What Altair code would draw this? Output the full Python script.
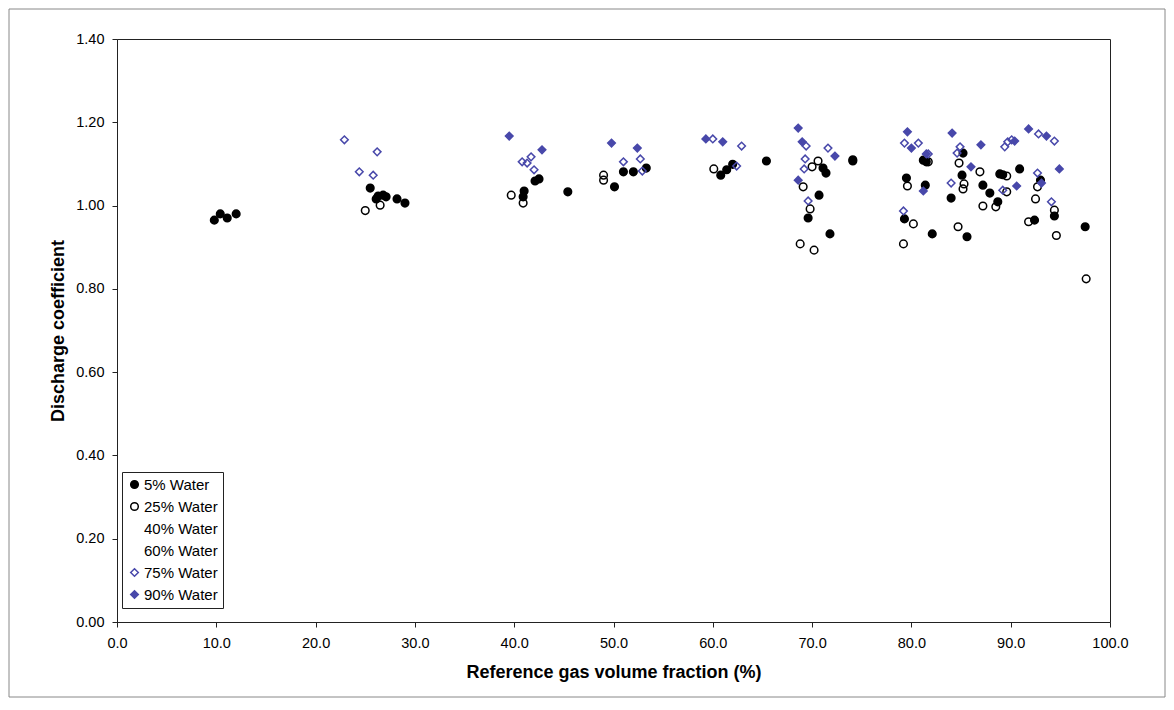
import altair as alt
import pandas as pd

# ---- data ----
series_names = ["5% Water", "25% Water", "40% Water", "60% Water", "75% Water", "90% Water"]

w5_x = [9.8, 10.4, 11.1, 12.0,
        25.5, 26.1, 26.3, 26.8, 27.1, 28.2, 29.0,
        40.9, 41.0, 42.1, 42.5, 45.4,
        50.1, 51.0, 52.0, 53.3,
        60.8, 61.4, 62.0, 65.4,
        69.6, 70.7, 71.1, 71.4, 71.8,
        74.1, 74.1,
        79.3, 79.5, 81.2, 81.4, 81.5, 82.1, 84.0, 85.1, 85.2, 85.6,
        87.2, 87.9, 88.7, 88.9, 89.2, 90.9, 92.4, 93.0, 94.4, 97.5]
w5_y = [0.965, 0.980, 0.970, 0.980,
        1.042, 1.016, 1.023, 1.025, 1.021, 1.016, 1.006,
        1.021, 1.035, 1.059, 1.064, 1.033,
        1.045, 1.081, 1.081, 1.090,
        1.073, 1.086, 1.099, 1.107,
        0.970, 1.025, 1.090, 1.078, 0.932,
        1.107, 1.110,
        0.968, 1.066, 1.109, 1.049, 1.105, 0.932, 1.018, 1.073, 1.126, 0.925,
        1.049, 1.030, 1.009, 1.076, 1.074, 1.088, 0.965, 1.061, 0.975, 0.949]

w25_x = [25.0, 26.5,
         39.7, 40.9,
         49.0, 49.0,
         60.1,
         68.8, 69.1, 69.8, 70.0, 70.2, 70.6,
         79.2, 79.6, 80.2, 81.7, 84.7, 84.8, 85.2, 85.3,
         86.9, 87.2, 88.5, 89.6, 89.6, 91.8, 92.5, 92.7, 94.4, 94.6, 97.6]
w25_y = [0.988, 1.001,
         1.025, 1.006,
         1.073, 1.061,
         1.088,
         0.908, 1.045, 0.992, 1.093, 0.893, 1.107,
         0.908, 1.047, 0.956, 1.105, 0.949, 1.102, 1.040, 1.052,
         1.081, 0.999, 0.997, 1.033, 1.071, 0.961, 1.016, 1.045, 0.989, 0.928, 0.824]

w40_x = []
w40_y = []
w60_x = []
w60_y = []

w75_x = [22.9, 24.4, 25.8, 26.2,
         40.8, 41.3, 41.7, 42.0,
         51.0, 52.7, 52.9,
         60.0, 62.4, 62.9,
         69.2, 69.3, 69.4, 69.6, 71.6,
         79.2, 79.3, 80.7, 81.7, 84.0, 84.6, 84.9,
         89.2, 89.4, 89.7, 90.1, 92.7, 92.8, 94.1, 94.4]
w75_y = [1.158, 1.081, 1.073, 1.129,
         1.105, 1.102, 1.117, 1.086,
         1.105, 1.112, 1.083,
         1.160, 1.095, 1.143,
         1.088, 1.112, 1.143, 1.011, 1.138,
         0.987, 1.150, 1.150, 1.124, 1.054, 1.126, 1.141,
         1.037, 1.141, 1.153, 1.158, 1.078, 1.172, 1.009, 1.155]

w90_x = [39.5, 42.8,
         49.8, 52.4,
         59.3, 61.0,
         68.6, 68.6, 69.0, 72.3,
         79.6, 80.0, 81.2, 81.5, 84.1,
         86.0, 87.0, 90.4, 90.6, 91.8, 93.1, 93.6, 94.9]
w90_y = [1.167, 1.134,
         1.150, 1.138,
         1.160, 1.153,
         1.186, 1.061, 1.153, 1.119,
         1.177, 1.138, 1.035, 1.124, 1.174,
         1.093, 1.146, 1.155, 1.047, 1.184, 1.054, 1.167, 1.088]

x_ticks = [0, 10, 20, 30, 40, 50, 60, 70, 80, 90, 100]
y_ticks = [0.0, 0.2, 0.4, 0.6, 0.8, 1.0, 1.2, 1.4]

# ---- table ----
rows = []
for name, xs, ys in zip(series_names,
                        [w5_x, w25_x, w40_x, w60_x, w75_x, w90_x],
                        [w5_y, w25_y, w40_y, w60_y, w75_y, w90_y]):
    for xv, yv in zip(xs, ys):
        rows.append({"gvf": xv, "cd": yv, "series": name})
df = pd.DataFrame(rows)

BLUE = "#4848AA"
FONT = "Liberation Sans"

shape_range = ["circle", "circle", "circle", "circle", "diamond", "diamond"]
fill_range = ["black", "transparent", "transparent", "transparent", "transparent", BLUE]
stroke_range = ["black", "black", "transparent", "transparent", BLUE, BLUE]

legend = alt.Legend(title=None, orient="none", legendX=5, legendY=433)

points = alt.Chart(df).mark_point(filled=False, strokeWidth=1.5, opacity=1, size=58).encode(
    x=alt.X("gvf:Q", scale=alt.Scale(domain=[0, 100], nice=False, zero=False),
            axis=alt.Axis(values=x_ticks, format=".1f", title="Reference gas volume fraction (%)",
                          labelPadding=9, labelFlush=False, titleX=496.5, titleY=50,
                          titleAlign="center", titleBaseline="middle")),
    y=alt.Y("cd:Q", scale=alt.Scale(domain=[0, 1.4], nice=False),
            axis=alt.Axis(values=y_ticks, format=".2f", title="Discharge coefficient",
                          labelPadding=8, labelFlush=False, titleX=-59, titleY=291.5,
                          titleAngle=-90, titleAlign="center", titleBaseline="middle")),
    shape=alt.Shape("series:N", scale=alt.Scale(domain=series_names, range=shape_range), legend=legend),
    fill=alt.Fill("series:N", scale=alt.Scale(domain=series_names, range=fill_range), legend=legend),
    stroke=alt.Stroke("series:N", scale=alt.Scale(domain=series_names, range=stroke_range), legend=legend),
)

frame = alt.Chart(pd.DataFrame({"k": [0]})).mark_rect(
    fill="transparent", stroke="#888", strokeWidth=1
).encode(x=alt.value(-108), x2=alt.value(1048), y=alt.value(-30), y2=alt.value(658))

chart = alt.layer(frame, points).properties(
    width=993, height=583,
    padding={"left": 109, "top": 31, "right": 56, "bottom": 76},
    autosize=alt.AutoSizeParams(type="none"),
    background="white",
).configure_view(
    stroke="#222", strokeWidth=1
).configure_axis(
    grid=False, domainColor="#222", tickColor="#222", tickSize=5,
    labelFont=FONT, labelFontSize=14.5, labelColor="black",
    titleFont=FONT, titleFontSize=18, titleFontWeight="bold", titleColor="black",
).configure_legend(
    padding=5, rowPadding=6, labelFontSize=15, labelFont=FONT,
    labelColor="black", symbolSize=58, symbolStrokeWidth=1.5,
    labelOffset=2, strokeColor="#222", fillColor="white",
)

chart.save("out.html", embed_options={"renderer": "svg", "actions": False})
